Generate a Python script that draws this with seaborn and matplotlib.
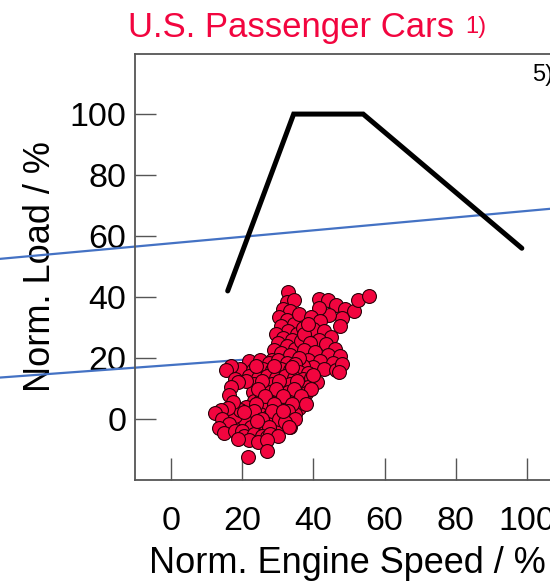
import matplotlib
matplotlib.use("Agg")
import matplotlib.pyplot as plt
import seaborn as sns
import pandas as pd

# Full-load curve (engine speed %, load %)
curve_speed = [16.0, 34.5, 54.0, 98.5]
curve_load = [42.0, 100.0, 100.0, 56.0]

# Measured operating points (engine speed %, load %)
points = [
    # upper arm
    (33.0, 41.5), (32.5, 38.5), (34.5, 39.0), (31.5, 36.0), (33.5, 35.5), (30.5, 33.5),
    (32.5, 32.5), (34.5, 31.0), (31.0, 30.5), (33.0, 29.0), (35.5, 28.0), (29.5, 28.0),
    (31.5, 26.5), (34.0, 26.0), (30.0, 25.0), (32.5, 24.0), (29.0, 22.5), (35.0, 23.0),
    (31.0, 21.5), (33.5, 21.0), (36.5, 25.5), (37.0, 30.0), (28.5, 19.5), (36.0, 34.5),
    # upper-right tail
    (41.5, 39.5), (44.0, 39.0), (46.5, 37.5), (49.0, 36.0), (51.5, 35.5), (52.5, 39.0),
    (55.5, 40.5), (48.0, 33.0), (47.5, 30.5), (44.5, 34.0), (41.5, 36.5), (39.5, 33.5),
    (42.0, 32.0), (40.0, 29.5), (37.5, 28.0), (43.0, 29.0), (45.0, 27.0), (38.5, 31.0),
    # middle right
    (41.5, 26.0), (39.0, 25.0), (43.5, 24.5), (46.0, 23.0), (37.5, 22.5), (40.5, 22.0),
    (44.0, 21.0), (47.5, 20.5), (38.5, 19.5), (42.0, 19.0), (45.5, 18.5), (40.0, 17.0),
    (43.0, 16.5), (46.5, 16.0), (48.0, 18.0), (37.0, 17.5), (36.0, 20.0), (47.3, 15.4),
    # core
    (22.0, 19.0), (25.0, 19.5), (27.5, 18.5), (30.0, 19.5), (32.5, 18.5), (35.0, 18.0),
    (19.5, 16.5), (23.0, 16.0), (26.0, 16.5), (28.5, 16.0), (31.0, 16.5), (33.5, 16.0),
    (36.0, 15.5), (38.5, 15.0), (22.0, 14.0), (24.5, 13.5), (27.0, 14.0), (29.5, 13.5),
    (32.0, 14.0), (34.5, 13.5), (37.0, 13.0), (39.5, 13.5), (23.5, 11.5), (26.0, 11.0),
    (28.5, 11.5), (31.0, 11.0), (33.5, 11.5), (36.0, 11.0), (38.5, 10.5), (41.0, 12.0),
    (23.0, 9.0), (25.5, 8.5), (28.0, 9.0), (30.5, 8.5), (33.0, 9.0), (35.5, 8.5),
    (38.0, 8.5), (23.5, 6.0), (25.0, 6.0), (27.5, 6.5), (30.0, 6.0), (32.5, 6.5),
    (35.0, 6.0), (37.0, 6.5), (21.0, 4.0), (24.0, 3.5), (26.5, 4.0), (29.0, 3.5),
    (31.5, 4.0), (34.0, 4.0), (36.0, 3.5), (20.0, 1.5), (22.5, 1.0), (25.0, 1.5),
    (27.5, 1.0), (30.0, 1.5), (32.5, 1.0), (35.0, 1.5), (19.0, -1.0), (21.5, -1.5),
    (24.0, -1.0), (26.5, -1.5), (29.0, -1.0), (31.0, -1.5), (33.5, -2.5),
    (24.0, 17.5), (29.0, 17.5), (34.0, 17.0), (21.0, 12.5), (25.5, 12.5), (30.5, 12.5),
    (35.5, 12.5), (40.0, 14.5), (24.5, 10.0), (29.5, 10.0), (34.5, 10.0), (39.5, 10.0),
    (26.5, 7.5), (31.5, 7.5), (36.5, 7.5), (24.0, 5.0), (29.0, 5.0), (34.0, 5.0),
    (38.0, 5.0), (23.5, 2.5), (28.5, 2.5), (33.0, 2.5), (20.5, 0.0), (25.5, 0.0),
    (30.5, 0.0), (35.0, 0.0), (22.5, -2.5), (27.5, -2.5), (32.0, -1.0), (18.0, 1.0),
    (19.5, 3.0),
    # left band
    (17.0, 17.5), (15.5, 16.0), (18.0, 13.0), (18.8, 12.2), (17.0, 10.5), (16.5, 8.0),
    (17.5, 5.5), (16.0, 3.5), (14.0, 3.0), (12.5, 2.0), (14.5, 0.0), (16.5, -1.5),
    (13.5, -3.0), (15.0, -4.5),
    # bottom band
    (18.0, -4.0), (20.0, -4.0), (20.5, -5.5), (23.5, -4.9), (25.5, -5.5), (26.9, -5.9),
    (28.0, -5.0), (30.0, -5.5), (22.0, -7.0), (24.5, -7.5), (27.0, -7.0), (19.0, -6.5),
    (21.6, -12.5), (26.9, -10.5), (33.3, -2.6), (31.4, 2.6), (20.7, 2.3), (24.1, -0.7),
]
pts_speed = [p[0] for p in points]
pts_load = [p[1] for p in points]

# Two reference lines (speed, load), running past the plot frame
ref_upper_speed = [-49.0, 108.0]
ref_upper_load = [52.4, 69.1]
ref_lower_speed = [-49.0, 23.5]
ref_lower_load = [13.5, 19.7]

x_ticks = [0, 20, 40, 60, 80, 100]
y_ticks = [0, 20, 40, 60, 80, 100]

sns.set_theme(style="white")
plt.rcParams["font.family"] = ["Liberation Sans", "DejaVu Sans"]

fig = plt.figure(figsize=(5.5, 5.88), dpi=100)
ax = fig.add_axes([135 / 550, 108 / 588, 415 / 550, 426 / 588])

blue = "#4472C4"
red = "#F2053F"

sns.lineplot(x=ref_lower_speed, y=ref_lower_load, ax=ax, color=blue, lw=1.6,
             sort=False, clip_on=False, zorder=2, estimator=None)
sns.lineplot(x=ref_upper_speed, y=ref_upper_load, ax=ax, color=blue, lw=1.6,
             sort=False, clip_on=False, zorder=2, estimator=None)
sns.lineplot(x=curve_speed, y=curve_load, ax=ax, color="black", lw=3.6,
             sort=False, zorder=3, estimator=None, solid_joinstyle="miter")

df = pd.DataFrame({"speed": pts_speed, "load": pts_load})
sns.scatterplot(data=df, x="speed", y="load", ax=ax, s=100, color=red,
                edgecolor="#2a0008", linewidth=0.8, zorder=4)

ax.set_xlim(-10.0, 106.4)
ax.set_ylim(-20.0, 119.7)
ax.set_xticks(x_ticks)
ax.set_yticks(y_ticks)
ax.set_xticklabels([str(v) for v in x_ticks])
ax.set_yticklabels([str(v) for v in y_ticks])

spine_col = "#555555"
for side in ["left", "bottom", "top"]:
    ax.spines[side].set_visible(True)
    ax.spines[side].set_color(spine_col)
    ax.spines[side].set_linewidth(1.3)
ax.spines["right"].set_visible(False)

ax.tick_params(axis="y", direction="in", length=15, width=1.0, color=spine_col,
               labelsize=24.5, pad=6.3, left=True, labelcolor="black")
ax.tick_params(axis="x", direction="in", length=15.5, width=1.0, color=spine_col,
               labelsize=24.5, pad=19, bottom=True, labelcolor="black")

ax.set_xlabel("Norm. Engine Speed / %", fontsize=26, color="black")
ax.set_ylabel("Norm. Load / %", fontsize=26, color="black")
ax.xaxis.set_label_coords(0.512, -0.155)
ax.yaxis.set_label_coords(-0.186, 0.5)

fig.text(128 / 550, 1 - 37 / 588, "U.S. Passenger Cars", color=red,
         fontsize=25, ha="left", va="baseline")
fig.text(465 / 550, 1 - 33 / 588, "1)", color=red, fontsize=17,
         ha="left", va="baseline")
fig.text(532 / 550, 1 - 81 / 588, "5)", color="black", fontsize=17,
         ha="left", va="baseline")

fig.savefig("out.png", dpi=100)
